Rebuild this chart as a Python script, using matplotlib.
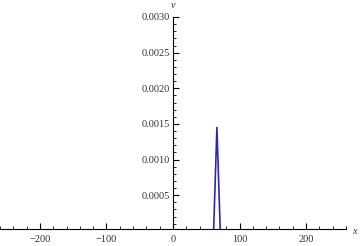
import matplotlib
matplotlib.use("Agg")
import matplotlib.pyplot as plt
from matplotlib.ticker import MultipleLocator

x_vals = [-260, 61, 66, 71, 260]
v_vals = [0.0, 0.0, 0.00145, 0.0, 0.0]
x_ticks = [-200, -100, 0, 100, 200]
y_ticks = [0.0005, 0.0010, 0.0015, 0.0020, 0.0025, 0.0030]

plt.rcParams['font.family'] = ['Liberation Serif', 'DejaVu Serif']
fig = plt.figure(figsize=(3.6, 2.46), dpi=100)
ax = fig.add_axes([0.0, 1 - 229/246, 346/360, (229-17)/246])
ax.plot(x_vals, v_vals, color='#2b2ba8', lw=1.2)
ax.set_xlim(-260, 260)
ax.set_ylim(0.000025, 0.003)
for s in ['top', 'right']:
    ax.spines[s].set_visible(False)
ax.spines['left'].set_position(('data', 0))
ax.spines['left'].set_linewidth(0.8)
ax.spines['bottom'].set_linewidth(0.8)
ax.spines['left'].set_zorder(3)
ax.spines['bottom'].set_zorder(3)
ax.set_xticks(x_ticks)
ax.set_xticklabels([("\u2212%d" % -t) if t < 0 else str(t) for t in x_ticks])
ax.set_yticks(y_ticks)
ax.set_yticklabels(["%.4f" % t for t in y_ticks])
ax.xaxis.set_minor_locator(MultipleLocator(20))
ax.yaxis.set_minor_locator(MultipleLocator(0.0001))
ax.tick_params(axis='both', which='major', direction='in', length=4, width=0.8, labelsize=7.5, colors='black', labelcolor='#333333')
ax.tick_params(axis='both', which='minor', direction='in', length=2, width=0.6)
ax.tick_params(axis='x', pad=4)
ax.tick_params(axis='y', pad=2)
fig.text(354/360, 1 - 231/246, 'x', style='italic', fontsize=7.5, ha='center', va='center', color='#333333')
fig.text(173/360, 1 - 6/246, 'v', style='italic', fontsize=7.5, ha='center', va='center', color='#333333')
fig.savefig('out.png', dpi=100)
